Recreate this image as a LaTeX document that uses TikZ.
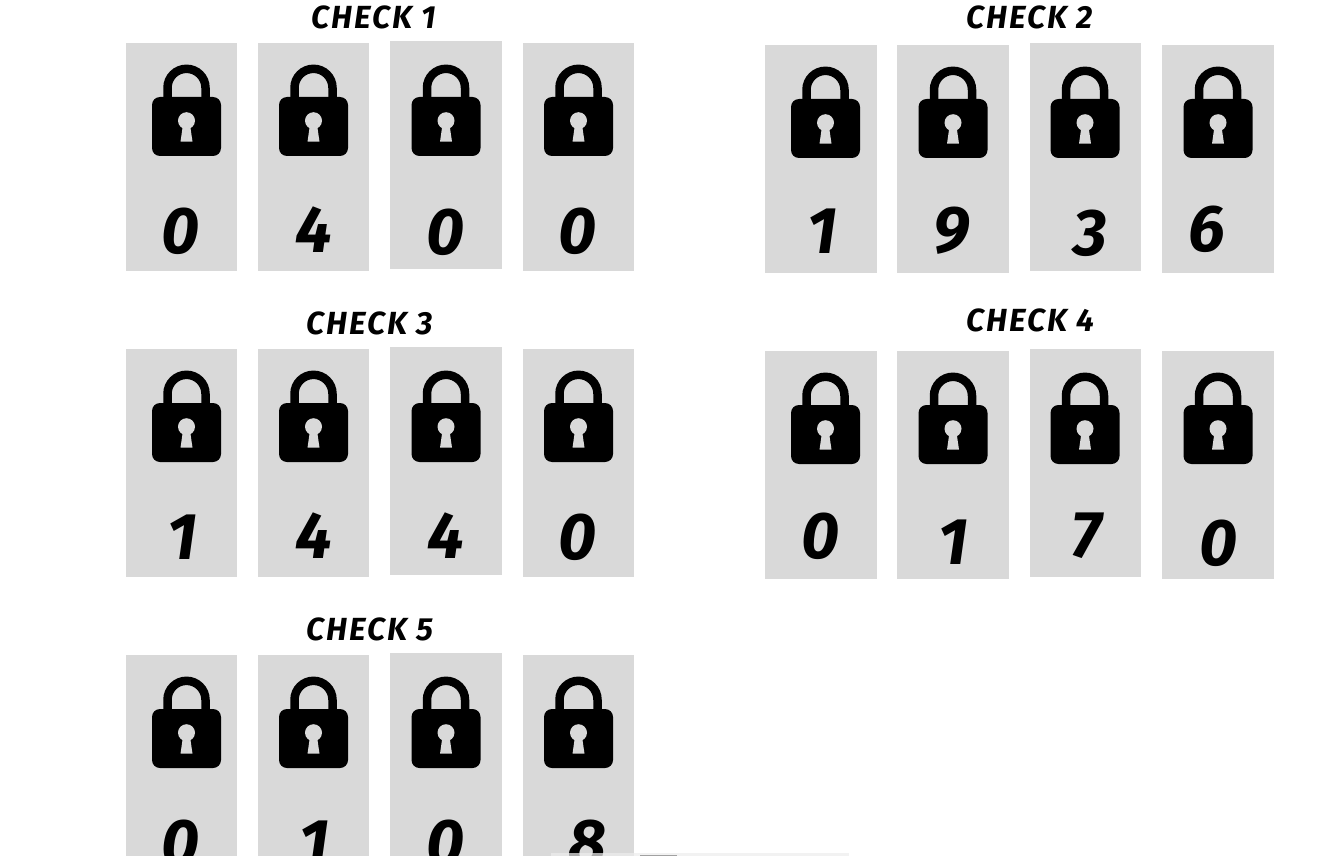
\documentclass[tikz,border=0pt]{standalone}
\usepackage{fontspec}
\setmainfont{Fira Sans}
\newfontfamily\checkfont[LetterSpace=6]{Fira Sans}
\tikzset{
 panel/.style={fill=panelgray,draw=none,minimum width=111.5pt,minimum height=228pt,inner sep=0pt},
 digit/.style={inner sep=0pt,font=\fontsize{66}{66}\selectfont\bfseries\itshape},
 title/.style={inner sep=0pt,font=\checkfont\fontsize{32}{32}\selectfont\bfseries\itshape},
 lockicon/.pic={
  \draw[line width=8.5pt,black] (-19,-26)--(-19,-38.7) arc[start angle=180,end angle=360,radius=19]--(19,-26);
  \fill[black,rounded corners=8pt] (-34.5,-29.5) rectangle (34.5,29.5);
  \fill[panelgray] (0,-5.8) circle (8.5);
  \fill[panelgray] (-3.5,-2)--(3.5,-2)--(6,15.2)--(-6,15.2)--cycle;
 }
}
\definecolor{panelgray}{HTML}{D9D9D9}
\definecolor{stripgray}{HTML}{EDEDED}
\begin{document}
\begin{tikzpicture}[x=1pt,y=-1pt]
 \useasboundingbox (0,0) rectangle (1323,856);
 % check 1
 \node[title] (title1) at (374,17) {CHECK 1};
 \node[panel] (box11) at (181.5,157) {};
 \node[panel] (box12) at (313.5,157) {};
 \node[panel] (box13) at (445.75,155) {};
 \node[panel] (box14) at (578.5,157) {};
 \pic at (186.5,126.5) {lockicon};
 \pic at (313.5,126.5) {lockicon};
 \pic at (446,126.5) {lockicon};
 \pic at (578.5,126.5) {lockicon};
 \node[digit] (num11) at (181,231) {0};
 \node[digit] (num12) at (314,230) {4};
 \node[digit] (num13) at (446,232) {0};
 \node[digit] (num14) at (578,231) {0};
 % check 2
 \node[title] (title2) at (1030,17) {CHECK 2};
 \node[panel] (box21) at (821,159) {};
 \node[panel] (box22) at (953,159) {};
 \node[panel] (box23) at (1085.5,157) {};
 \node[panel] (box24) at (1218,159) {};
 \pic at (825.5,128.5) {lockicon};
 \pic at (953,128.5) {lockicon};
 \pic at (1085,128.5) {lockicon};
 \pic at (1218,128.5) {lockicon};
 \node[digit] (num21) at (822,231) {1};
 \node[digit] (num22) at (952,231) {9};
 \node[digit] (num23) at (1090,233) {3};
 \node[digit] (num24) at (1207,229) {6};
 % check 3
 \node[title] (title3) at (370,323) {CHECK 3};
 \node[panel] (box31) at (181.5,463) {};
 \node[panel] (box32) at (313.5,463) {};
 \node[panel] (box33) at (445.75,461) {};
 \node[panel] (box34) at (578.5,463) {};
 \pic at (186.5,432.5) {lockicon};
 \pic at (313.5,432.5) {lockicon};
 \pic at (446,432.5) {lockicon};
 \pic at (578.5,432.5) {lockicon};
 \node[digit] (num31) at (182,537) {1};
 \node[digit] (num32) at (314,536) {4};
 \node[digit] (num33) at (446,536) {4};
 \node[digit] (num34) at (578,537) {0};
 % check 4
 \node[title] (title4) at (1030,320) {CHECK 4};
 \node[panel] (box41) at (821,465) {};
 \node[panel] (box42) at (953,465) {};
 \node[panel] (box43) at (1085.5,463) {};
 \node[panel] (box44) at (1218,465) {};
 \pic at (825.5,434.5) {lockicon};
 \pic at (953,434.5) {lockicon};
 \pic at (1085,434.5) {lockicon};
 \pic at (1218,434.5) {lockicon};
 \node[digit] (num41) at (820,536) {0};
 \node[digit] (num42) at (953,542) {1};
 \node[digit] (num43) at (1087,536) {7};
 \node[digit] (num44) at (1218,543) {0};
 % check 5
 \node[title] (title5) at (370,629) {CHECK 5};
 \node[panel] (box51) at (181.5,769) {};
 \node[panel] (box52) at (313.5,769) {};
 \node[panel] (box53) at (445.75,767) {};
 \node[panel] (box54) at (578.5,769) {};
 \pic at (186.5,738.5) {lockicon};
 \pic at (313.5,738.5) {lockicon};
 \pic at (446,738.5) {lockicon};
 \pic at (578.5,738.5) {lockicon};
 \node[digit] (num51) at (181,843) {0};
 \node[digit] (num52) at (314,843) {1};
 \node[digit] (num53) at (446,843) {0};
 \node[digit] (num54) at (587,843) {8};
 % strip along the bottom edge
 \fill[stripgray,opacity=0.72] (551,853) rectangle (849,856);
 \fill[gray,opacity=0.7] (640,854.5) rectangle (677,856);
\end{tikzpicture}
\end{document}
